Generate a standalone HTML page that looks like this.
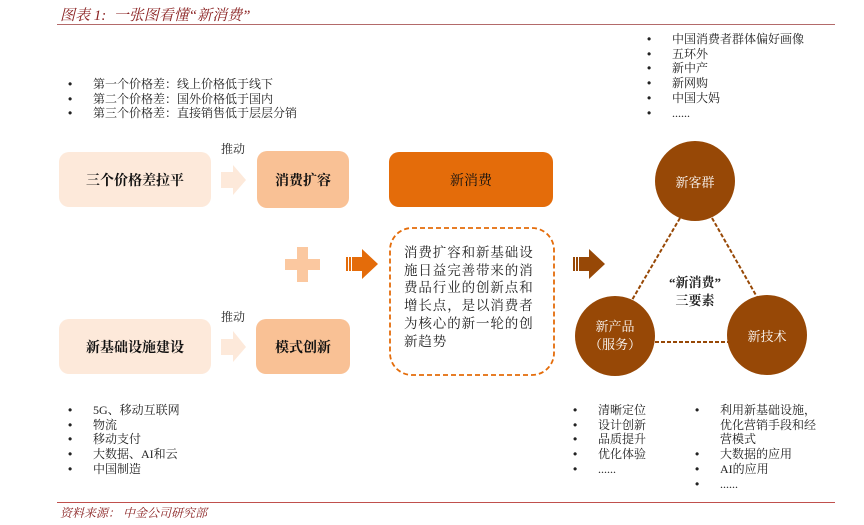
<!DOCTYPE html>
<html><head><meta charset="utf-8"><style>
body{margin:0;width:864px;height:525px;background:#fff;position:relative;overflow:hidden;font-family:"Liberation Serif","Noto Serif CJK SC",serif;color:#222}
.a{position:absolute;white-space:nowrap}
.t{font-size:12px;line-height:14.7px}
.b{position:absolute;display:flex;align-items:center;justify-content:center;border-radius:10px;font-weight:bold;font-size:14px;color:#111}
ul{margin:0;padding:0;list-style:none}
li{position:relative}
li:before{content:"•";position:absolute;left:-25px;font-family:"Liberation Sans",sans-serif}
li.n:before{content:none}
</style></head><body>
<div class="a" style="left:60px;top:4px;font-size:15px;font-style:italic;color:#8b2323">图表 1:&nbsp; 一张图看懂“新消费”</div>
<div class="a" style="left:57px;top:24px;width:778px;height:1px;background:#b36a6a"></div>
<div class="a" style="left:57px;top:502px;width:778px;height:1px;background:#c0504d"></div>
<div class="a" style="left:60px;top:504px;font-size:12px;font-style:italic;color:#8b2323">资料来源：&nbsp;中金公司研究部</div>

<ul class="a t" style="left:93px;top:77px"><li>第一个价格差：线上价格低于线下</li><li>第二个价格差：国外价格低于国内</li><li>第三个价格差：直接销售低于层层分销</li></ul>
<ul class="a t" style="left:672px;top:32px"><li>中国消费者群体偏好画像</li><li>五环外</li><li>新中产</li><li>新网购</li><li>中国大妈</li><li>......</li></ul>
<ul class="a t" style="left:93px;top:403px"><li>5G、移动互联网</li><li>物流</li><li>移动支付</li><li>大数据、AI和云</li><li>中国制造</li></ul>
<ul class="a t" style="left:598px;top:403px"><li>清晰定位</li><li>设计创新</li><li>品质提升</li><li>优化体验</li><li>......</li></ul>
<ul class="a t" style="left:720px;top:403px"><li>利用新基础设施，</li><li class="n">优化营销手段和经</li><li class="n">营模式</li><li>大数据的应用</li><li>AI的应用</li><li>......</li></ul>

<svg class="a" style="left:0;top:0" width="864" height="525">
<polygon points="221,172 233,172 233,165 246,180 233,195 233,188 221,188" fill="#fde9da"/>
<polygon points="221,339 233,339 233,331 246,347 233,362 233,355 221,355" fill="#fde9da"/>
<rect x="297" y="247" width="11" height="35" fill="#fbc8a0"/><rect x="285" y="259" width="35" height="11" fill="#fbc8a0"/>
<g fill="#e46c0a"><rect x="346" y="257" width="2" height="14"/><rect x="349" y="257" width="2" height="14"/><polygon points="352,257 362,257 362,249 378,264 362,279 362,271 352,271"/></g>
<g fill="#974806"><rect x="573" y="257" width="2" height="14"/><rect x="576" y="257" width="2" height="14"/><polygon points="579,257 589,257 589,249 605,264 589,279 589,271 579,271"/></g>
<rect x="390" y="228" width="164" height="147" rx="22" fill="none" stroke="#e46c0a" stroke-width="1.8" stroke-dasharray="5,3"/>
<g stroke="#974806" stroke-width="2" stroke-dasharray="4,2"><line x1="680" y1="218" x2="632" y2="300"/><line x1="712" y1="218" x2="757" y2="297"/><line x1="655" y1="342" x2="728" y2="342"/></g>
<circle cx="695" cy="181" r="40" fill="#974806"/><circle cx="615" cy="336" r="40" fill="#974806"/><circle cx="767" cy="335" r="40" fill="#974806"/>
</svg>
<div class="a" style="left:221px;top:140px;font-size:12px">推动</div>
<div class="a" style="left:221px;top:308px;font-size:12px">推动</div>
<div class="b" style="left:59px;top:152px;width:152px;height:55px;background:#fde9da">三个价格差拉平</div>
<div class="b" style="left:257px;top:151px;width:92px;height:57px;background:#f9c195">消费扩容</div>
<div class="b" style="left:389px;top:152px;width:164px;height:55px;background:#e46c0a;font-weight:normal">新消费</div>
<div class="b" style="left:59px;top:319px;width:152px;height:55px;background:#fde9da">新基础设施建设</div>
<div class="b" style="left:256px;top:319px;width:94px;height:55px;background:#f9c195">模式创新</div>
<div class="a" style="left:404px;top:244px;font-size:13.5px;line-height:17.7px;letter-spacing:0.9px">消费扩容和新基础设<br>施日益完善带来的消<br>费品行业的创新点和<br>增长点，是以消费者<br>为核心的新一轮的创<br>新趋势</div>
<div class="a" style="left:665px;top:172px;width:60px;text-align:center;color:#fff;font-size:13px">新客群</div>
<div class="a" style="left:585px;top:318px;width:60px;text-align:center;color:#fff;font-size:13px;line-height:18px">新产品<br>（服务）</div>
<div class="a" style="left:737px;top:326px;width:60px;text-align:center;color:#fff;font-size:13px">新技术</div>
<div class="a" style="left:655px;top:274px;width:80px;text-align:center;font-size:13px;font-weight:bold;line-height:18px">“新消费”<br>三要素</div>
</body></html>
